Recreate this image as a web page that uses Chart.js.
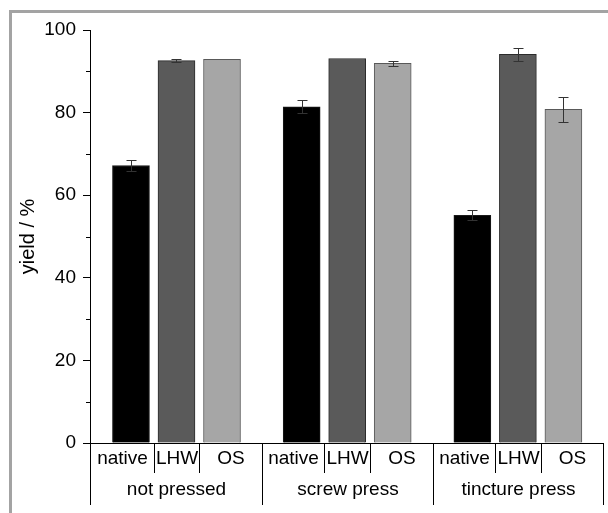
<!DOCTYPE html>
<html>
<head>
<meta charset="utf-8">
<script src="https://cdn.jsdelivr.net/npm/chart.js@4.4.1/dist/chart.umd.min.js"></script>
<style>
  html, body { margin: 0; padding: 0; background: #fff; }
  #wrap { width: 608px; height: 513px; }
</style>
</head>
<body>
<div id="wrap"><canvas id="yieldChart" width="608" height="513"></canvas></div>
<script>
// groups on the x axis and the three pretreatments inside each group
var groups = ["not pressed", "screw press", "tincture press"];
var series = ["native", "LHW", "OS"];

// yield / %
var nativeYield = [67.2, 81.4, 55.1];
var lhwYield = [92.6, 93.1, 94.1];
var osYield = [92.9, 91.9, 80.8];

// error bars (+/-)
var nativeErr = [1.4, 1.6, 1.2];
var lhwErr = [0.3, 0, 1.5];
var osErr = [0, 0.7, 3.0];

var yTicks = [0, 20, 40, 60, 80, 100];
var yMinorTicks = [10, 30, 50, 70, 90];

var GROUP_STEP = 3.75; // distance from one group to the next, in bar slots
var X_MIN = -0.9, X_MAX = 10.37;
var FONT = "'Liberation Sans', Arial, sans-serif";

function points(values, s) {
  return values.map(function (v, g) { return { x: g * GROUP_STEP + s, y: v }; });
}

var errs = [nativeErr, lhwErr, osErr];

// grey frame + category table under the x axis + error bars + minor ticks
var extras = {
  id: "extras",
  beforeDraw: function (chart) {
    var ctx = chart.ctx;
    ctx.save();
    ctx.fillStyle = "#a3a3a3";
    ctx.fillRect(9, 10, 3, 503);
    ctx.fillRect(9, 10, 599, 3);
    ctx.restore();
  },
  afterDraw: function (chart) {
    var ctx = chart.ctx;
    var xs = chart.scales.x, ys = chart.scales.y;
    var base = chart.chartArea.bottom;
    ctx.save();

    // error bars
    ctx.strokeStyle = "#333";
    ctx.lineWidth = 1;
    chart.data.datasets.forEach(function (ds, d) {
      var meta = chart.getDatasetMeta(d);
      meta.data.forEach(function (bar, i) {
        var e = errs[d][i];
        if (!e) return;
        var v = ds.data[i].y;
        var x = Math.round(bar.x) + 0.5;
        var y1 = Math.round(ys.getPixelForValue(v + e)) + 0.5;
        var y2 = Math.round(ys.getPixelForValue(v - e)) + 0.5;
        ctx.beginPath();
        ctx.moveTo(x, y1); ctx.lineTo(x, y2);
        ctx.moveTo(x - 5, y1); ctx.lineTo(x + 5, y1);
        ctx.moveTo(x - 5, y2); ctx.lineTo(x + 5, y2);
        ctx.stroke();
      });
    });

    // minor ticks on y
    ctx.strokeStyle = "#000";
    var left = chart.chartArea.left;
    yMinorTicks.forEach(function (t) {
      var y = Math.round(ys.getPixelForValue(t)) + 0.5;
      ctx.beginPath();
      ctx.moveTo(left - 4, y); ctx.lineTo(left, y);
      ctx.stroke();
    });

    // category table
    ctx.fillStyle = "#000";
    ctx.font = "19px " + FONT;
    ctx.textAlign = "center";
    ctx.textBaseline = "middle";
    groups.forEach(function (name, g) {
      var g0 = g * GROUP_STEP;
      var gl = g === 0 ? X_MIN : (g0 + (g0 - GROUP_STEP + 2)) / 2;
      var gr = g === groups.length - 1 ? X_MAX : (g0 + 2 + g0 + GROUP_STEP) / 2;
      var bounds = [gl, g0 + 0.5, g0 + 1.5, gr];
      var px = bounds.map(function (b) { return Math.round(xs.getPixelForValue(b)) + 0.5; });
      series.forEach(function (s, k) {
        ctx.fillText(s, (px[k] + px[k + 1]) / 2, base + 16);
      });
      ctx.fillText(name, (px[0] + px[3]) / 2, base + 47);
      ctx.beginPath();
      ctx.moveTo(px[1], base); ctx.lineTo(px[1], base + 30);
      ctx.moveTo(px[2], base); ctx.lineTo(px[2], base + 30);
      ctx.moveTo(px[0], base); ctx.lineTo(px[0], base + 62);
      ctx.moveTo(px[3], base); ctx.lineTo(px[3], base + 62);
      ctx.stroke();
    });
    ctx.restore();
  }
};

var barData = {
  datasets: [
    {
      label: "native",
      data: points(nativeYield, 0),
      backgroundColor: "#000000",
      borderColor: "#1a1a1a",
      borderWidth: 1
    },
    {
      label: "LHW",
      data: points(lhwYield, 1),
      backgroundColor: "#5a5a5a",
      borderColor: "#2b2b2b",
      borderWidth: 1
    },
    {
      label: "OS",
      data: points(osYield, 2),
      backgroundColor: "#a6a6a6",
      borderColor: "#595959",
      borderWidth: 1
    }
  ]
};

var ctx = document.getElementById("yieldChart");
var myChart = new Chart(ctx, {
  type: "bar",
  data: barData,
  plugins: [extras],
  options: {
    responsive: false,
    animation: false,
    devicePixelRatio: 1,
    grouped: false,
    barThickness: 37,
    layout: { padding: { top: 30, right: 5, left: 0, bottom: 0 } },
    plugins: {
      legend: { display: false },
      tooltip: { enabled: false }
    },
    scales: {
      x: {
        type: "linear",
        min: X_MIN,
        max: X_MAX,
        offset: false,
        ticks: { display: false },
        grid: { display: false },
        border: { display: true, color: "#000", width: 1 },
        afterFit: function (scale) { scale.height = 70; }
      },
      y: {
        min: 0,
        max: 100,
        afterBuildTicks: function (scale) {
          scale.ticks = yTicks.map(function (v) { return { value: v }; });
        },
        ticks: {
          color: "#000",
          padding: 7,
          font: { family: FONT, size: 19 }
        },
        grid: {
          drawOnChartArea: false,
          drawTicks: true,
          tickLength: 7,
          tickColor: "#000"
        },
        border: { display: true, color: "#000", width: 1 },
        title: {
          display: true,
          text: "yield / %",
          color: "#000",
          padding: { top: 16 },
          font: { family: FONT, size: 20 }
        },
        afterFit: function (scale) { scale.width = 90; }
      }
    }
  }
});
</script>
</body>
</html>
